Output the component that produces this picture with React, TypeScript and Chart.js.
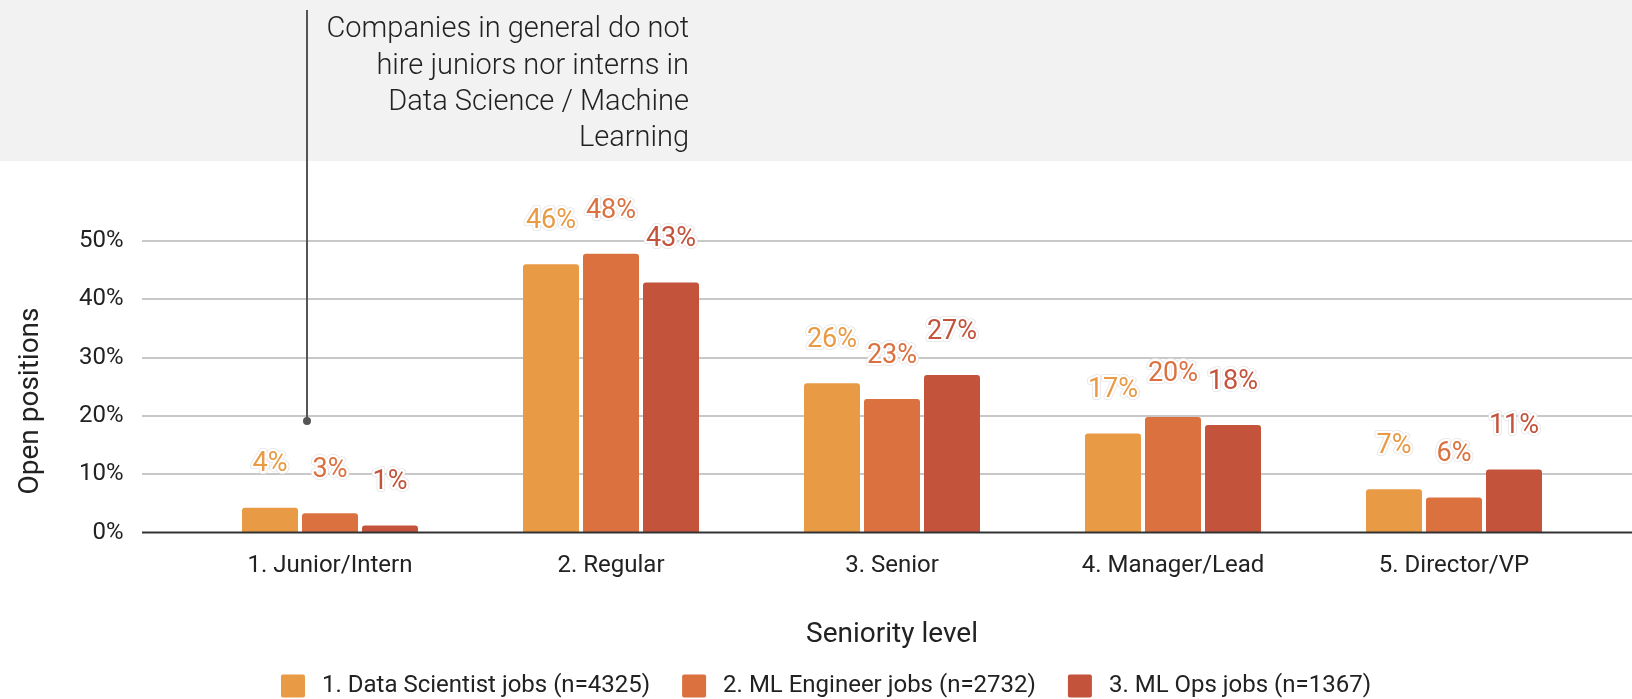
import React, { useEffect, useRef } from "react";
import { Chart, registerables } from "chart.js";

Chart.register(...registerables);

const categories = ["1. Junior/Intern", "2. Regular", "3. Senior", "4. Manager/Lead", "5. Director/VP"];
const seriesNames = [
  "1. Data Scientist jobs (n=4325)",
  "2. ML Engineer jobs (n=2732)",
  "3. ML Ops jobs (n=1367)",
];
const dataScientist = [4.25, 46.0, 25.6, 17.0, 7.4];
const mlEngineer = [3.3, 47.8, 22.9, 19.8, 6.0];
const mlOps = [1.2, 42.9, 27.0, 18.45, 10.8];
const seriesColors = ["#E99A44", "#DC7140", "#C4533C"];
const yTicks = [0, 10, 20, 30, 40, 50];
const annotationLines = [
  "Companies in general do not",
  "hire juniors nor interns in",
  "Data Science / Machine",
  "Learning",
];
const xTitle = "Seniority level";
const yTitle = "Open positions";

const FONT = "Roboto, 'Noto Sans', sans-serif";
const TEXT = "#222222";

const decor = {
  id: "decor",
  beforeDraw(chart: any) {
    const { ctx, width } = chart;
    ctx.save();
    ctx.fillStyle = "#f2f2f2";
    ctx.fillRect(0, 0, width, 161);
    const y = chart.scales.y;
    ctx.strokeStyle = "#c8c8c8";
    ctx.lineWidth = 2;
    yTicks.forEach((v) => {
      if (v === 0) return;
      const py = Math.round(y.getPixelForValue(v));
      ctx.beginPath();
      ctx.moveTo(142, py);
      ctx.lineTo(width, py);
      ctx.stroke();
    });
    ctx.restore();
  },
  afterDatasetsDraw(chart: any) {
    const { ctx, width } = chart;
    const y = chart.scales.y;
    ctx.save();
    const p0 = y.getPixelForValue(0);
    ctx.strokeStyle = "#333333";
    ctx.lineWidth = 2;
    ctx.beginPath();
    ctx.moveTo(142, p0);
    ctx.lineTo(width, p0);
    ctx.stroke();

    ctx.font = `27px ${FONT}`;
    ctx.textAlign = "center";
    ctx.textBaseline = "middle";
    ctx.lineJoin = "round";
    chart.data.datasets.forEach((ds: any, i: number) => {
      const meta = chart.getDatasetMeta(i);
      meta.data.forEach((bar: any, j: number) => {
        const txt = `${Math.round(ds.data[j])}%`;
        const ly = bar.y - 43;
        ctx.strokeStyle = "rgba(225,225,225,0.9)";
        ctx.lineWidth = 6;
        ctx.strokeText(txt, bar.x, ly);
        ctx.strokeStyle = "#ffffff";
        ctx.lineWidth = 4.5;
        ctx.strokeText(txt, bar.x, ly);
        ctx.fillStyle = seriesColors[i];
        ctx.fillText(txt, bar.x, ly);
      });
    });
    ctx.restore();
  },
  afterDraw(chart: any) {
    const { ctx } = chart;
    ctx.save();
    // annotation
    ctx.strokeStyle = "#555555";
    ctx.lineWidth = 2;
    ctx.beginPath();
    ctx.moveTo(307, 10);
    ctx.lineTo(307, 421);
    ctx.stroke();
    ctx.fillStyle = "#555555";
    ctx.beginPath();
    ctx.arc(307, 421, 4, 0, Math.PI * 2);
    ctx.fill();

    ctx.fillStyle = TEXT;
    ctx.font = `300 29px ${FONT}`;
    ctx.textAlign = "right";
    ctx.textBaseline = "middle";
    annotationLines.forEach((l, i) => {
      ctx.fillText(l, 689, 30 + i * 36.4);
    });

    // y title
    ctx.save();
    ctx.translate(31, 401);
    ctx.rotate(-Math.PI / 2);
    ctx.font = `28px ${FONT}`;
    ctx.textAlign = "center";
    ctx.textBaseline = "middle";
    ctx.fillText(yTitle, 0, 0);
    ctx.restore();

    // legend
    ctx.font = `24px ${FONT}`;
    ctx.textAlign = "left";
    ctx.textBaseline = "middle";
    const box = 24;
    const gap = 17;
    const itemGap = 32;
    const widths = seriesNames.map((s) => ctx.measureText(s).width);
    const total = widths.reduce((a, w) => a + box + gap + w, 0) + itemGap * (seriesNames.length - 1);
    let x = 826 - total / 2;
    const cy = 686;
    seriesNames.forEach((s, i) => {
      ctx.fillStyle = seriesColors[i];
      ctx.beginPath();
      (ctx as any).roundRect(x, cy - 11.5, box, 23, 2);
      ctx.fill();
      ctx.fillStyle = TEXT;
      ctx.fillText(s, x + box + gap, cy);
      x += box + gap + widths[i] + itemGap;
    });
    ctx.restore();
  },
};

export default function App() {
  const ref = useRef<HTMLCanvasElement>(null);
  useEffect(() => {
    document.body.style.margin = "0";
    Chart.defaults.font.family = FONT;
    const chart = new Chart(ref.current as HTMLCanvasElement, {
      type: "bar",
      data: {
        labels: categories,
        datasets: [dataScientist, mlEngineer, mlOps].map((d, i) => ({
          label: seriesNames[i],
          data: d,
          backgroundColor: seriesColors[i],
          borderRadius: 3,
          categoryPercentage: 0.6406,
          barPercentage: 0.9333,
        })),
      },
      options: {
        animation: false,
        responsive: false,
        maintainAspectRatio: false,
        devicePixelRatio: 1,
        layout: { padding: { left: 0, right: 37.5, top: 211.9, bottom: 47.6 } },
        plugins: { legend: { display: false }, tooltip: { enabled: false } },
        scales: {
          x: {
            grid: { display: false },
            border: { display: false },
            ticks: { font: { size: 24 }, color: TEXT, padding: 11 },
            title: { display: true, text: xTitle, font: { size: 28 }, color: TEXT, padding: 0 },
            afterFit: (s: any) => {
              s.height = 699 - 47.6 - 532.5;
            },
          },
          y: {
            min: 0,
            max: 55,
            grid: { display: false },
            border: { display: false },
            ticks: {
              font: { size: 24 },
              color: TEXT,
              padding: 58,
              callback: (v: any) => `${v}%`,
            },
            afterBuildTicks: (s: any) => {
              s.ticks = yTicks.map((v) => ({ value: v }));
            },
            afterFit: (s: any) => {
              s.width = 189.5;
            },
          },
        },
      },
      plugins: [decor],
    } as any);
    return () => chart.destroy();
  }, []);
  return <canvas ref={ref} width={1632} height={699} style={{ display: "block" }} />;
}
